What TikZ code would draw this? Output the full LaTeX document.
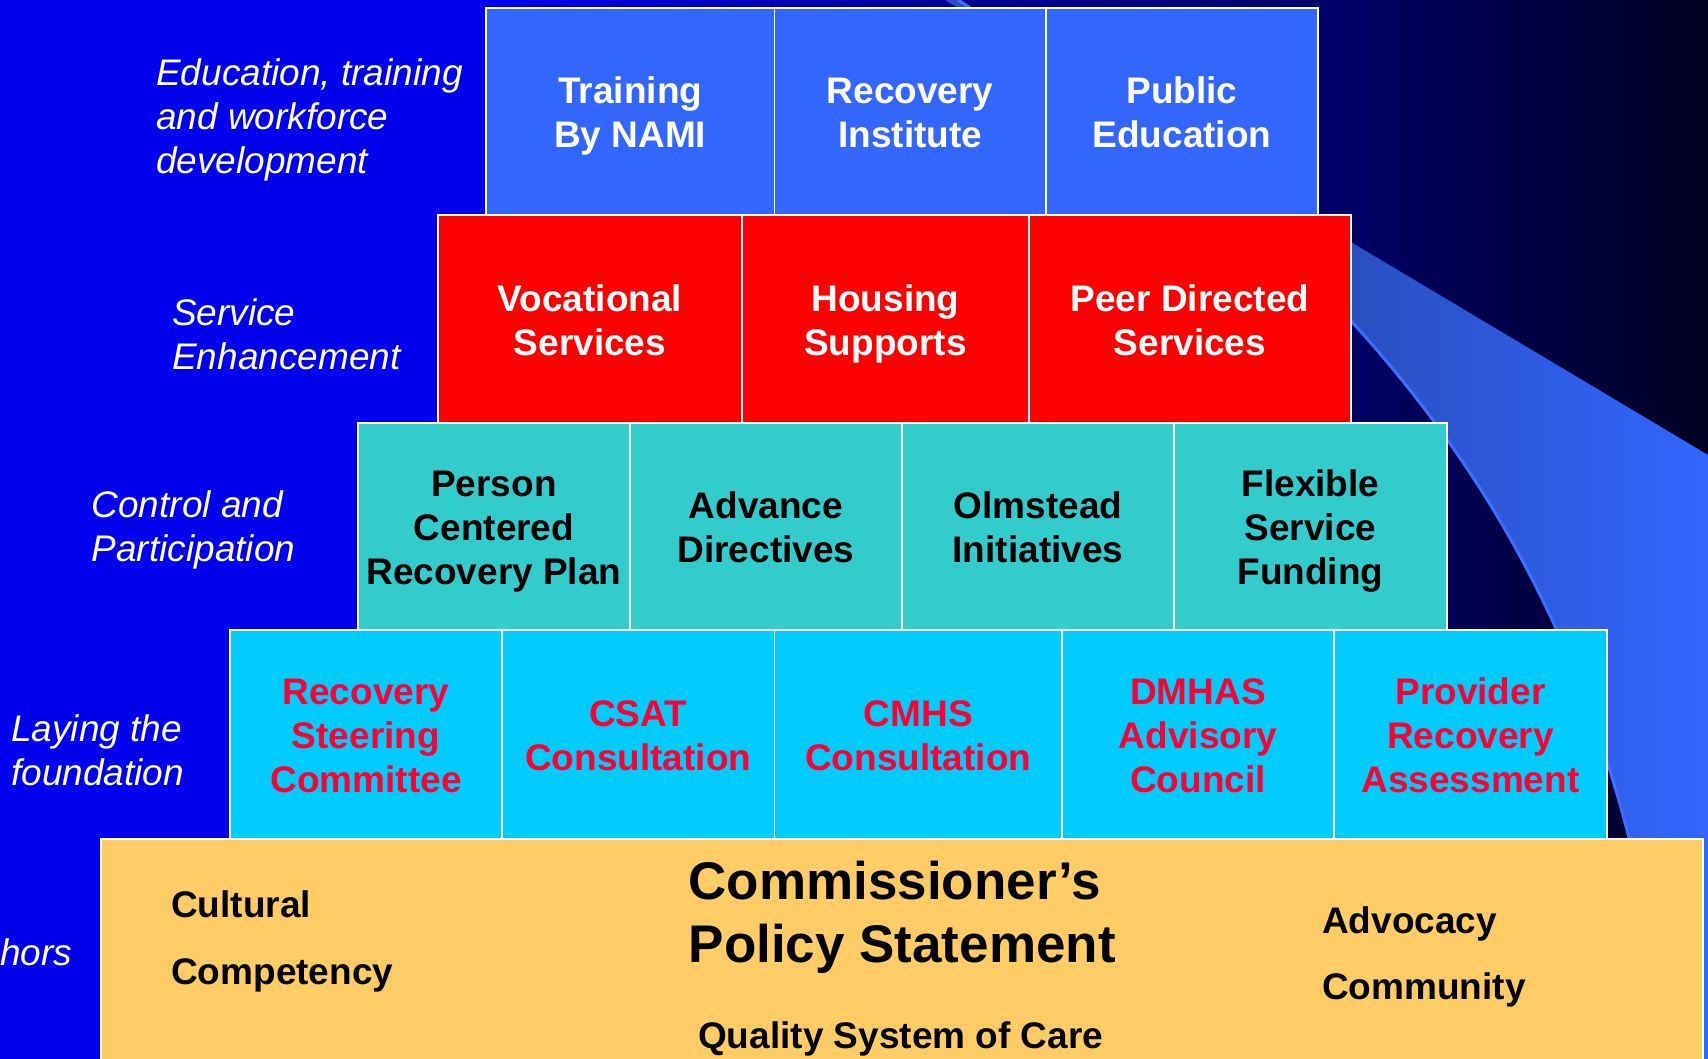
\documentclass[tikz,border=0pt]{standalone}
\usepackage{fontspec}
\setmainfont{Liberation Sans}
\definecolor{bgA}{RGB}{0,0,238}
\definecolor{bgB}{RGB}{0,0,150}
\definecolor{bgC}{RGB}{0,0,110}
\definecolor{bgD}{RGB}{0,0,32}
\definecolor{bandA}{RGB}{42,79,192}
\definecolor{bandB}{RGB}{51,102,255}
\definecolor{bandEdge}{RGB}{60,110,255}
\definecolor{tierBlue}{RGB}{51,102,255}
\definecolor{tierRed}{RGB}{255,0,0}
\definecolor{tierTeal}{RGB}{51,204,204}
\definecolor{tierCyan}{RGB}{0,204,255}
\definecolor{tierGold}{RGB}{255,204,102}
\definecolor{pinkRed}{RGB}{255,0,51}
\newcommand{\cellfont}{\fontsize{37}{44}\selectfont\bfseries}
\newcommand{\lblfont}{\fontsize{37}{44}\selectfont\itshape}
\newcommand{\bigtitlefont}{\fontsize{53}{63}\selectfont\bfseries}
\newcommand{\ts}{\rule{0pt}{36.5pt}}
\newcommand{\bs}{\rule[-8pt]{0pt}{8pt}}
\begin{document}
\begin{tikzpicture}[x=1pt,y=-1pt,
  cell/.style={draw=white, line width=1.5pt, inner sep=0pt, outer sep=0pt, align=center,
               font=\cellfont},
  tierone/.style={cell, fill=tierBlue, text=white, minimum height=207pt},
  tiertwo/.style={cell, fill=tierRed, text=white, minimum height=208pt},
  tierthree/.style={cell, fill=tierTeal, text=black, minimum height=207pt},
  tierfour/.style={cell, fill=tierCyan, text=pinkRed, minimum height=209pt},
  foundation/.style={cell, fill=tierGold},
  lbl/.style={text=white, font=\lblfont, align=left, inner sep=0pt, anchor=west},
  basetext/.style={text=black, font=\cellfont, inner sep=0pt, anchor=base west},
  bandedge/.style={draw=bandEdge, line width=3pt}
]
\useasboundingbox (0,0) rectangle (1708,1059);
% background
\fill[bgA] (0,0) rectangle (487,1059);
\shade[left color=bgA, right color=bgB] (486,0) rectangle (961,1059);
\shade[left color=bgB, right color=bgC] (960,0) rectangle (1311,1059);
\shade[left color=bgC, right color=bgD] (1310,0) rectangle (1708,1059);
% swoosh band
\begin{scope}
  \clip (945,0) -- (1708,455) -- (1708,1059) -- (1670,1059)
        .. controls (1612,590) and (1420,300) .. (958,0) -- cycle;
  \fill[bandA] (940,0) rectangle (1352,1059);
  \shade[left color=bandA, right color=bandB] (1351,0) rectangle (1708,1059);
\end{scope}
\draw[bandedge] (958,0) .. controls (1420,300) and (1612,590) .. (1670,1059);

% tier 1
\node[tierone, minimum width=288.5pt] (t1a) at (630.25,111.5) {\ts Training\\By NAMI\bs};
\node[tierone, minimum width=271.5pt] (t1b) at (910.25,111.5) {\ts Recovery\\Institute\bs};
\node[tierone, minimum width=272pt]   (t1c) at (1182,111.5) {\ts Public\\Education\bs};
% tier 2
\node[tiertwo, minimum width=304pt] (t2a) at (590,319) {\ts Vocational\\Services\bs};
\node[tiertwo, minimum width=287pt] (t2b) at (885.5,319) {\ts Housing\\Supports\bs};
\node[tiertwo, minimum width=322pt] (t2c) at (1190,319) {\ts Peer Directed\\Services\bs};
% tier 3
\node[tierthree, minimum width=272pt] (t3a) at (494,526.5) {\ts Person\\Centered\\Recovery Plan\bs};
\node[tierthree, minimum width=272pt] (t3b) at (766,526.5) {\ts Advance\\Directives\bs};
\node[tierthree, minimum width=272pt] (t3c) at (1038,526.5) {\ts Olmstead\\Initiatives\bs};
\node[tierthree, minimum width=273pt] (t3d) at (1310.5,526.5) {\ts Flexible\\Service\\Funding\bs};
% tier 4
\node[tierfour, minimum width=272pt]   (t4a) at (366,734.5) {\ts Recovery\\Steering\\Committee\bs};
\node[tierfour, minimum width=272.5pt] (t4b) at (638.25,734.5) {\ts CSAT\\Consultation\bs};
\node[tierfour, minimum width=287.5pt] (t4c) at (918.25,734.5) {\ts CMHS\\Consultation\bs};
\node[tierfour, minimum width=272pt]   (t4d) at (1198,734.5) {\ts DMHAS\\Advisory\\Council\bs};
\node[tierfour, minimum width=273pt]   (t4e) at (1470.5,734.5) {\ts Provider\\Recovery\\Assessment\bs};
% foundation
\node[foundation, minimum width=1602pt, minimum height=231pt] (t5) at (902,954.5) {};
\node[basetext, font=\bigtitlefont] (cps1) at (688.5,899) {Commissioner’s};
\node[basetext, font=\bigtitlefont] (cps2) at (688.5,962) {Policy Statement};
\node[basetext] (qsc) at (698,1048) {Quality System of Care};
\node[basetext] (cul) at (171,917) {Cultural};
\node[basetext] (com) at (171,984) {Competency};
\node[basetext] (adv) at (1322,933) {Advocacy};
\node[basetext] (cmy) at (1322,999) {Community};

% side labels
\node[lbl] (lab1) at (156,120) {Education, training\\and workforce\\development};
\node[lbl] (lab2) at (172,334.5) {Service\\Enhancement};
\node[lbl] (lab3) at (91.5,530) {Control and\\Participation};
\node[lbl] (lab4) at (11,750.5) {Laying the\\foundation};
\node[lbl] (lab5) at (0,952) {hors};
\end{tikzpicture}
\end{document}
